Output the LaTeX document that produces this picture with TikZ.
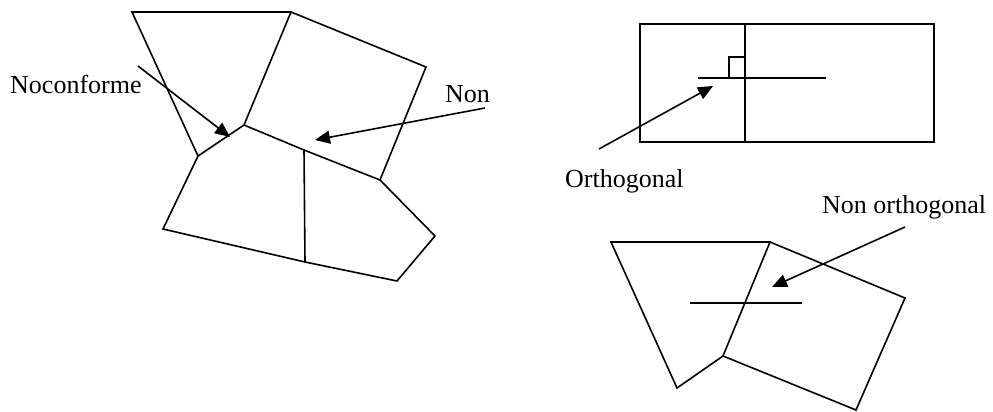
\documentclass[tikz,border=0pt]{standalone}
\usepackage{fontspec}
\setmainfont{Liberation Serif}
\usetikzlibrary{arrows.meta}
\begin{document}
\begin{tikzpicture}[x=1pt,y=-1pt,
  edge/.style={line width=1.6pt,line join=miter},
  pointer/.style={line width=1.6pt,-{Triangle[length=15pt,width=13pt]}},
  lbl/.style={inner sep=0pt,anchor=base west,font=\fontsize{26}{30}\selectfont}]
\useasboundingbox (0,0) rectangle (993,412);
% left mesh
\coordinate (A) at (132,12);
\coordinate (B) at (291,12);
\coordinate (C) at (426,67);
\coordinate (D) at (380,180);
\coordinate (E) at (244,125);
\coordinate (F) at (198,156);
\coordinate (G) at (163,229);
\coordinate (M) at (304,150);
\coordinate (N) at (305,262);
\coordinate (H) at (397,281);
\coordinate (I) at (435,236);
\draw[edge] (F) -- (A) -- (B) -- (C) -- (D);
\draw[edge] (B) -- (E);
\draw[edge] (G) -- (F) -- (E) -- (M) -- (D) -- (I) -- (H) -- (N) -- cycle;
\draw[edge] (M) -- (N);
\node[lbl] (nc) at (10,93) {Noconforme};
\coordinate (ncs) at (138,66);
\coordinate (nct) at (230,137);
\draw[pointer] (ncs) -- (nct);
\node[lbl] (non) at (445,102) {Non};
\coordinate (nons) at (485,108);
\coordinate (nont) at (315,140);
\draw[pointer] (nons) -- (nont);
% orthogonal
\coordinate (R1) at (640,24);
\coordinate (R2) at (934,142);
\draw[edge] (R1) rectangle (R2);
\coordinate (VT) at (745,24);
\coordinate (VB) at (745,142);
\draw[edge] (VT) -- (VB);
\coordinate (HL) at (698,78);
\coordinate (HR) at (826,78);
\draw[edge] (HL) -- (HR);
\coordinate (Q1) at (729,78);
\coordinate (Q2) at (729,57);
\coordinate (Q3) at (745,57);
\draw[edge] (Q1) -- (Q2) -- (Q3);
\node[lbl] (orth) at (565,187) {Orthogonal};
\coordinate (os) at (599,149);
\coordinate (ot) at (713,86);
\draw[pointer] (os) -- (ot);
% non orthogonal
\coordinate (P1) at (611,242);
\coordinate (P2) at (770,242);
\coordinate (P3) at (723,356);
\coordinate (P4) at (677,388);
\coordinate (P5) at (905,298);
\coordinate (P6) at (856,410);
\draw[edge] (P1) -- (P2) -- (P3) -- (P4) -- cycle;
\draw[edge] (P2) -- (P5) -- (P6) -- (P3);
\coordinate (SL) at (690,303);
\coordinate (SR) at (802,303);
\draw[edge] (SL) -- (SR);
\node[lbl] (nonorth) at (822,213) {Non orthogonal};
\coordinate (ns) at (905,227);
\coordinate (nt) at (772,287);
\draw[pointer] (ns) -- (nt);
\end{tikzpicture}
\end{document}
